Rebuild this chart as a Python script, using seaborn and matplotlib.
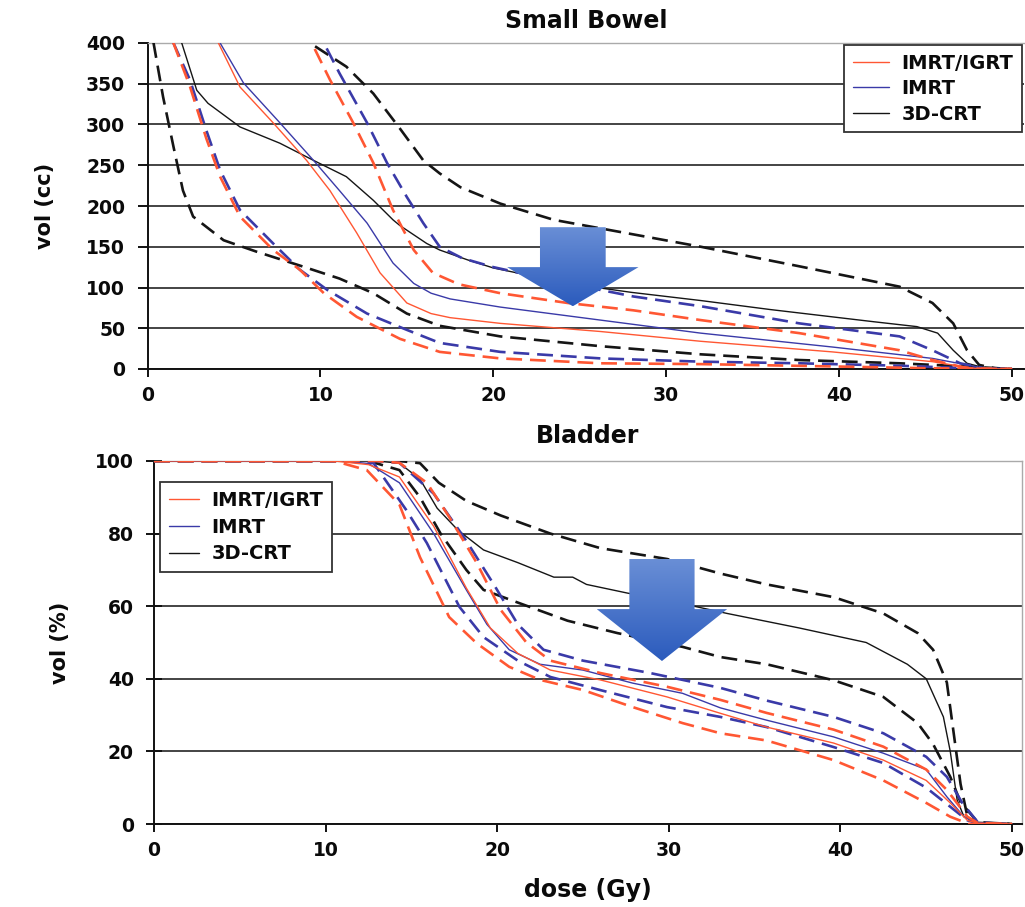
import numpy as np
import pandas as pd
import matplotlib
matplotlib.use("Agg")
import matplotlib.pyplot as plt
import seaborn as sns
from matplotlib.lines import Line2D
from matplotlib.patches import Polygon
from matplotlib.colors import LinearSegmentedColormap

# ---------------- Small Bowel DVH (dose in Gy, volume in cc) ----------------
sb_crt_mean_x = [1.6, 1.98, 2.85, 3.5, 5.35, 7.66, 9.6, 11.5, 13.06, 14.2, 14.6, 16.15, 16.9, 18.5, 20, 24.3, 28, 32, 36, 39.6, 42, 44.5, 45.7, 46.6, 47.4, 48.3, 49, 50]
sb_crt_mean_y = [440, 400, 342, 326, 297, 277, 256, 236, 207, 183, 176, 154, 146, 134, 124, 105, 94, 84, 73, 64, 58, 52, 44, 23, 7, 2, 0.5, 0]
sb_crt_hi_x = [9.0, 9.4, 11.5, 13.06, 14.6, 15.95, 16.9, 18.1, 20.4, 23.5, 26.6, 32, 37.7, 43.5, 45.4, 46.6, 47.4, 48.1, 49, 50]
sb_crt_hi_y = [420, 400, 371, 338, 295, 256, 240, 223, 203, 183, 171, 150, 126, 101, 81, 56, 23, 5, 1, 0]
sb_crt_lo_x = [0.25, 0.35, 0.9, 1.5, 2.05, 2.64, 4.4, 6.3, 8.8, 11.1, 13.06, 15, 16.9, 20.4, 26.2, 32, 37.7, 43.5, 47.4, 50]
sb_crt_lo_y = [430, 400, 334, 273, 219, 187, 158, 144, 127, 111, 93, 68, 53, 40, 28, 18, 11, 7, 3, 0]

sb_imrt_mean_x = [3.9, 4.2, 5.55, 7.66, 9.6, 11.1, 12.7, 14.2, 15.4, 16.4, 17.5, 20.4, 26.2, 32, 39.6, 45.4, 47.4, 48.5, 50]
sb_imrt_mean_y = [430, 400, 351, 302, 256, 219, 179, 130, 105, 93, 86, 76, 60, 44, 27, 13, 5, 0.5, 0]
sb_imrt_hi_x = [9.8, 10.2, 11.1, 12.7, 13.85, 15, 15.95, 16.9, 18.2, 20, 24.3, 28.1, 32, 37.7, 43.5, 45.4, 47, 48.5, 50]
sb_imrt_hi_y = [420, 400, 363, 302, 253, 211, 179, 150, 136, 125, 105, 89, 77, 56, 40, 23, 7, 0.5, 0]
sb_imrt_lo_x = [1.3, 1.5, 2.45, 3.4, 4.2, 5.35, 7.27, 8.8, 10.4, 12.7, 15, 16.9, 20.4, 26.2, 32, 37.7, 43.5, 48, 50]
sb_imrt_lo_y = [430, 400, 355, 293, 244, 195, 154, 122, 97, 68, 48, 32, 21, 13, 9, 7, 4, 0.5, 0]

sb_igrt_mean_x = [3.8, 4.1, 5.35, 7.27, 9.2, 10.55, 12.1, 13.45, 15, 16.4, 17.5, 20.4, 26.2, 32, 39.6, 45.4, 47.4, 48, 50]
sb_igrt_mean_y = [430, 400, 346, 302, 256, 219, 167, 118, 81, 68, 63, 56, 46, 34, 21, 9, 2, 0.5, 0]
sb_igrt_hi_x = [9.2, 9.5, 10.55, 11.9, 13.06, 14.2, 15.4, 16.5, 18, 20.4, 24.3, 28.1, 32, 37.7, 43.5, 45.4, 47.2, 48, 50]
sb_igrt_hi_y = [420, 400, 355, 302, 253, 195, 146, 118, 104, 93, 81, 72, 60, 44, 23, 11, 2, 0.5, 0]
sb_igrt_lo_x = [1.3, 1.5, 2.45, 3.4, 4.2, 5.35, 7.27, 8.8, 10.2, 12.1, 14.6, 16.9, 20.4, 26.2, 32, 40, 45, 50]
sb_igrt_lo_y = [430, 400, 347, 283, 236, 187, 146, 122, 93, 64, 37, 21, 13, 7, 6, 3, 1, 0]

# ---------------- Bladder DVH (dose in Gy, volume in %) ----------------
bl_crt_mean_x = [0, 13, 14.3, 15.5, 16.5, 17.7, 19.2, 21.2, 23.3, 24.4, 25.2, 27.6, 30.5, 33.4, 37.6, 41.5, 43.9, 45, 46, 46.4, 46.8, 47.2, 48, 50]
bl_crt_mean_y = [100, 100, 99.4, 95, 87, 81, 75.5, 72, 68, 68, 66, 63.6, 61, 58, 54, 50, 44, 40, 29.5, 20, 6.6, 2, 0.3, 0]
bl_crt_hi_x = [0, 13.5, 14.3, 15.5, 16.6, 18.2, 20.2, 23.1, 26, 29.9, 33, 35.7, 39.6, 42.5, 44.5, 45.4, 46.2, 46.6, 47, 47.4, 48, 50]
bl_crt_hi_y = [100, 100, 100, 99.4, 94, 89, 85, 80, 76, 73, 69, 66, 62.5, 58, 52.6, 48, 39, 25, 11, 2, 0.3, 0]
bl_crt_lo_x = [0, 12.5, 14.3, 15.5, 16.7, 18.2, 19.2, 21.2, 24.1, 27, 30.8, 33, 35.7, 39.6, 42.5, 44.5, 45.4, 46.4, 47, 48, 50]
bl_crt_lo_y = [100, 100, 97.5, 90, 80, 70, 64.5, 61, 56, 52.6, 48.8, 46, 44, 39.6, 35, 27.8, 22, 13, 6, 0.5, 0]

bl_imrt_mean_x = [0, 11, 12.5, 14.3, 16.3, 18.2, 19.4, 20.7, 22.5, 25, 27.9, 30.8, 33, 35.7, 39.6, 42.5, 45, 46.2, 47.2, 48, 50]
bl_imrt_mean_y = [100, 100, 99.3, 94, 80, 64.5, 55, 48, 44, 42.4, 38.8, 36, 32, 28.6, 24, 19.5, 15, 7.5, 2, 0.3, 0]
bl_imrt_hi_x = [0, 13, 14.3, 16.3, 18.2, 19.8, 21.2, 22.7, 25, 28.9, 33, 35.7, 39.6, 42.5, 45, 46.2, 47.1, 48, 49.5]
bl_imrt_hi_y = [100, 100, 99.5, 91, 78, 66, 55, 48, 45, 41.6, 37.5, 34, 29.5, 25, 18.5, 13, 5.8, 0.5, 0]
bl_imrt_lo_x = [0, 11, 12.8, 14.7, 15.9, 17.8, 19.2, 21.2, 23.1, 26, 29.9, 33, 35.7, 39.6, 42.5, 45, 46.2, 47.4, 48, 50]
bl_imrt_lo_y = [100, 100, 99.4, 86.5, 77.4, 59.8, 51.5, 45, 40.5, 36.9, 32.2, 29.5, 26.7, 21.2, 16.8, 10, 5.5, 1, 0.2, 0]

bl_igrt_mean_x = [0, 10.5, 12.5, 14.3, 16.3, 18.2, 19.6, 21.2, 23.1, 26, 29.9, 33, 35.7, 39.6, 42.5, 45, 46.4, 47.4, 48, 50]
bl_igrt_mean_y = [100, 100, 99, 95.6, 82, 65, 54, 47, 42.4, 39.7, 35, 30.5, 26.7, 22.3, 17.6, 12, 5.8, 1, 0.2, 0]
bl_igrt_hi_x = [0, 13, 14.3, 15.9, 17.2, 18.8, 20.2, 21.7, 23.1, 26, 29.9, 33, 35.7, 39.6, 42.5, 45, 46.2, 47.4, 48, 50]
bl_igrt_hi_y = [100, 100, 99.5, 94, 84.6, 72, 59, 50, 45, 41.6, 37.8, 34.2, 30.6, 26, 21.3, 15, 9.4, 2, 0.3, 0]
bl_igrt_lo_x = [0, 10.5, 12.4, 14.3, 15.5, 17.2, 18.8, 20.7, 22.5, 25, 27.9, 30.8, 33, 35.7, 39.6, 42.5, 45, 46.4, 47.5, 50]
bl_igrt_lo_y = [100, 100, 97.5, 88, 73.5, 57, 49.8, 43.3, 39.7, 36.9, 32.2, 27.8, 25, 23, 17.6, 12, 5.8, 2, 0, 0]

modalities = ["IMRT/IGRT", "IMRT", "3D-CRT"]
colors = {"IMRT/IGRT": "#ff5733", "IMRT": "#3a3aa8", "3D-CRT": "#151515"}

sb_curves = {
    "3D-CRT": [(sb_crt_hi_x, sb_crt_hi_y, "band"), (sb_crt_lo_x, sb_crt_lo_y, "band"), (sb_crt_mean_x, sb_crt_mean_y, "mean")],
    "IMRT": [(sb_imrt_hi_x, sb_imrt_hi_y, "band"), (sb_imrt_lo_x, sb_imrt_lo_y, "band"), (sb_imrt_mean_x, sb_imrt_mean_y, "mean")],
    "IMRT/IGRT": [(sb_igrt_hi_x, sb_igrt_hi_y, "band"), (sb_igrt_lo_x, sb_igrt_lo_y, "band"), (sb_igrt_mean_x, sb_igrt_mean_y, "mean")],
}
bl_curves = {
    "3D-CRT": [(bl_crt_hi_x, bl_crt_hi_y, "band"), (bl_crt_lo_x, bl_crt_lo_y, "band"), (bl_crt_mean_x, bl_crt_mean_y, "mean")],
    "IMRT": [(bl_imrt_hi_x, bl_imrt_hi_y, "band"), (bl_imrt_lo_x, bl_imrt_lo_y, "band"), (bl_imrt_mean_x, bl_imrt_mean_y, "mean")],
    "IMRT/IGRT": [(bl_igrt_hi_x, bl_igrt_hi_y, "band"), (bl_igrt_lo_x, bl_igrt_lo_y, "band"), (bl_igrt_mean_x, bl_igrt_mean_y, "mean")],
}

sns.set_style("white")
plt.rcParams["font.family"] = ["DejaVu Sans"]
plt.rcParams["font.weight"] = "bold"
plt.rcParams["axes.labelweight"] = "bold"
plt.rcParams["axes.titleweight"] = "bold"
plt.rcParams["text.color"] = "#0a0a0a"
plt.rcParams["axes.labelcolor"] = "#0a0a0a"
plt.rcParams["xtick.color"] = "#0a0a0a"
plt.rcParams["ytick.color"] = "#0a0a0a"

fig = plt.figure(figsize=(10.25, 9.07), dpi=100, facecolor="white")
W, H = 1025.0, 907.0
ax1 = fig.add_axes([147.5 / W, 1 - 369 / H, 876.6 / W, 326 / H])
ax2 = fig.add_axes([154 / W, 1 - 824 / H, 868 / W, 363 / H])


def draw_curves(ax, curves):
    for mod in ["3D-CRT", "IMRT", "IMRT/IGRT"]:
        for xs, ys, kind in curves[mod]:
            df = pd.DataFrame({"dose": xs, "vol": ys})
            sns.lineplot(data=df, x="dose", y="vol", ax=ax, color=colors[mod],
                         lw=1.0 if kind == "mean" else 1.9,
                         estimator=None, errorbar=None, sort=False, legend=False,
                         zorder=3)
            if kind == "band":
                ax.lines[-1].set_dashes((6.0, 3.0))


arrow_cmap = LinearSegmentedColormap.from_list("arrowfill", ["#6a8fd6", "#2b5bbd"])


def down_arrow(ax, xc, shaft_half, head_half, y_top, y_neck, y_tip):
    verts = [(xc - shaft_half, y_top), (xc + shaft_half, y_top), (xc + shaft_half, y_neck),
             (xc + head_half, y_neck), (xc, y_tip), (xc - head_half, y_neck),
             (xc - shaft_half, y_neck)]
    poly = Polygon(verts, closed=True, facecolor="none", edgecolor="none", transform=ax.transData)
    ax.add_patch(poly)
    grad = np.linspace(0, 1, 256).reshape(-1, 1)
    im = ax.imshow(grad, extent=[xc - head_half, xc + head_half, y_tip, y_top],
                   origin="upper", cmap=arrow_cmap, aspect="auto", zorder=6,
                   interpolation="bilinear")
    im.set_clip_path(poly)


def style_axes(ax, ymax, ystep, ytick_dir, ytick_len, ypad):
    ax.set_yticks(np.arange(0, ymax + 1, ystep))
    ax.set_xticks(np.arange(0, 51, 10))
    ax.grid(axis="y", color="#111111", lw=1.1)
    ax.grid(axis="x", visible=False)
    ax.set_axisbelow(True)
    for s in ["left", "bottom"]:
        ax.spines[s].set_color("#111111")
        ax.spines[s].set_linewidth(1.4)
    ax.tick_params(axis="x", direction="out", length=6, width=1.4, color="#111111",
                   pad=6, labelsize=13.5, labelcolor="#0a0a0a")
    ax.tick_params(axis="y", direction=ytick_dir, length=ytick_len, width=1.4,
                   color="#111111", pad=ypad, labelsize=13.5, labelcolor="#0a0a0a")
    ax.tick_params(left=True, bottom=True)


# ---- Small Bowel panel ----
draw_curves(ax1, sb_curves)
down_arrow(ax1, 24.6, 1.9, 3.8, 174, 125, 77)
ax1.set_xlim(0, 50.7)
ax1.set_ylim(0, 400)
style_axes(ax1, 400, 50, "out", 7, 9)
ax1.spines["top"].set_color("#aaaaaa")
ax1.spines["top"].set_linewidth(1.0)
ax1.spines["right"].set_visible(False)
ax1.set_title("Small Bowel", fontsize=17, pad=11)
ax1.set_xlabel("")
ax1.set_ylabel("vol (cc)", fontsize=15)
ax1.yaxis.set_label_coords(-0.105, 0.5)

# ---- Bladder panel ----
draw_curves(ax2, bl_curves)
down_arrow(ax2, 29.6, 1.9, 3.8, 73, 59.2, 44.9)
ax2.set_xlim(0, 50.58)
ax2.set_ylim(0, 100)
style_axes(ax2, 100, 20, "inout", 11, 9)
for s in ["top", "right"]:
    ax2.spines[s].set_color("#aaaaaa")
    ax2.spines[s].set_linewidth(1.0)
ax2.set_title("Bladder", fontsize=17, pad=13)
ax2.set_xlabel("dose (Gy)", fontsize=17)
ax2.xaxis.set_label_coords(0.5, -0.15)
ax2.set_ylabel("vol (%)", fontsize=15)
ax2.yaxis.set_label_coords(-0.097, 0.5)

# ---- legends ----
handles = [Line2D([], [], color=colors[m], lw=1.0) for m in modalities]
leg1 = ax1.legend(handles, modalities, loc="upper right", bbox_to_anchor=(1.0, 1.0),
                  borderaxespad=0.1, fontsize=14, frameon=True, fancybox=False,
                  handlelength=1.85, handletextpad=0.65, labelspacing=0.33,
                  borderpad=0.45, edgecolor="#333333", framealpha=1)
leg1.get_frame().set_linewidth(1.3)
leg2 = ax2.legend(handles, modalities, loc="upper left", bbox_to_anchor=(6 / 868, 1 - 21 / 363),
                  borderaxespad=0, fontsize=14, frameon=True, fancybox=False,
                  handlelength=1.55, handletextpad=0.65, labelspacing=0.4,
                  borderpad=0.45, edgecolor="#333333", framealpha=1)
leg2.get_frame().set_linewidth(1.3)
for leg in (leg1, leg2):
    for t in leg.get_texts():
        t.set_fontweight("bold")
        t.set_color("#0a0a0a")
    leg.set_zorder(10)

fig.savefig("out.png", dpi=100, facecolor="white")
